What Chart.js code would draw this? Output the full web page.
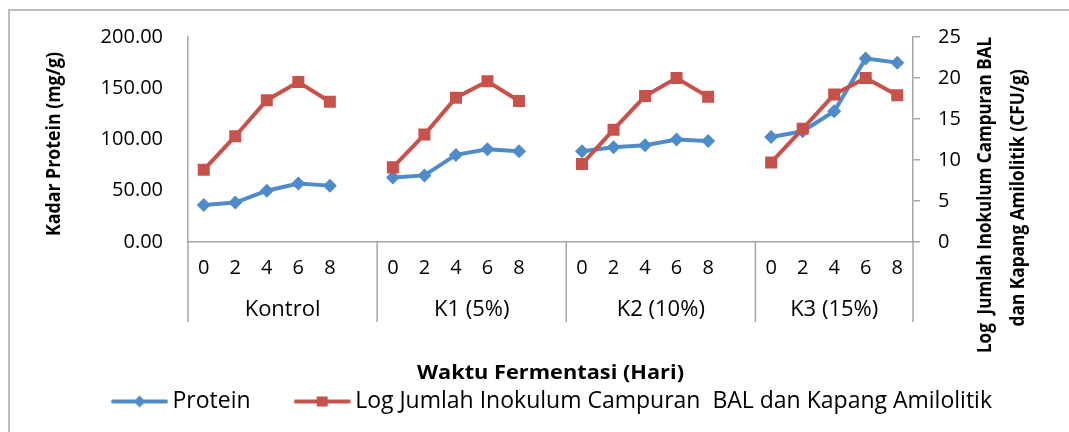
<!DOCTYPE html>
<html>
<head>
<meta charset="utf-8">
<script src="https://cdn.jsdelivr.net/npm/chart.js@4.4.1/dist/chart.umd.min.js"></script>
<style>
  html, body { margin: 0; padding: 0; background: #fff; }
  #wrap { width: 1069px; height: 432px; }
</style>
</head>
<body>
<div id="wrap"><canvas id="myChart"></canvas></div>
<script>
// days of fermentation, and the four treatment groups
var days = ['0', '2', '4', '6', '8'];
var groups = ['Kontrol', 'K1 (5%)', 'K2 (10%)', 'K3 (15%)'];

// protein content (mg/g), one array per group
var proteinKontrol = [36, 38.5, 50, 57, 55];
var proteinK1 = [63, 65, 85, 90.5, 88.5];
var proteinK2 = [88.5, 92.5, 94.5, 100, 98.5];
var proteinK3 = [102.5, 108, 127.5, 179, 175];

// log count of mixed inoculum (CFU/g)
var logKontrol = [8.8, 12.9, 17.3, 19.5, 17.1];
var logK1 = [9.1, 13.1, 17.6, 19.6, 17.2];
var logK2 = [9.5, 13.7, 17.8, 20.0, 17.7];
var logK3 = [9.7, 13.8, 18.0, 20.0, 17.9];

var leftTicks = [0, 50, 100, 150, 200];
var rightTicks = [0, 5, 10, 15, 20, 25];

var proteinAll = [proteinKontrol, proteinK1, proteinK2, proteinK3];
var logAll = [logKontrol, logK1, logK2, logK3];

var blue = '#4F8BC9';
var red = '#C6524B';
var axisGray = '#A6A6A6';
var font = "'Open Sans', 'Noto Sans', sans-serif";

// build the flat category axis, with one blank slot between groups so the lines break
var labels = [], proteinData = [], logData = [], groupStart = [];
groups.forEach(function (g, gi) {
    groupStart.push(labels.length);
    days.forEach(function (d, di) {
        labels.push(d);
        proteinData.push(proteinAll[gi][di]);
        logData.push(logAll[gi][di]);
    });
    if (gi < groups.length - 1) {
        labels.push('');
        proteinData.push(null);
        logData.push(null);
    }
});

// legend icons: line with marker in the middle (wider than the legend box on purpose)
function legendIcon(color, shape) {
    var c = document.createElement('canvas');
    c.width = 57; c.height = 16;
    var x = c.getContext('2d');
    x.strokeStyle = color; x.fillStyle = color;
    x.lineWidth = 4; x.lineCap = 'round';
    x.beginPath(); x.moveTo(2, 8); x.lineTo(55, 8); x.stroke();
    x.beginPath();
    if (shape === 'diamond') {
        x.moveTo(28.5, 2); x.lineTo(34.5, 8); x.lineTo(28.5, 14); x.lineTo(22.5, 8);
    } else {
        x.rect(23, 3, 11, 10);
    }
    x.closePath(); x.fill();
    return c;
}
var legendIcons = [legendIcon(blue, 'diamond'), legendIcon(red, 'square')];

function drawFitted(ctx, text, cx, cy, len, f, rotate) {
    ctx.save();
    ctx.font = f;
    var w = ctx.measureText(text).width;
    ctx.translate(cx, cy);
    if (rotate) ctx.rotate(-Math.PI / 2);
    ctx.scale(len / w, 1);
    ctx.textAlign = 'center';
    ctx.textBaseline = 'middle';
    ctx.fillStyle = '#000';
    ctx.fillText(text, 0, 0);
    ctx.restore();
}

var decorations = {
    id: 'decorations',
    afterDraw: function (chart) {
        var ctx = chart.ctx;
        var xs = chart.scales.x;
        var area = chart.chartArea;

        // outer frame
        ctx.save();
        ctx.strokeStyle = '#BDBDBD';
        ctx.lineWidth = 2;
        ctx.beginPath();
        ctx.moveTo(9, 440); ctx.lineTo(9, 10); ctx.lineTo(1080, 10);
        ctx.stroke();

        // group separators and group names
        ctx.strokeStyle = axisGray;
        ctx.lineWidth = 1.5;
        var edges = [];
        groupStart.forEach(function (s) { edges.push(xs.getPixelForValue(s - 0.5)); });
        edges.push(xs.getPixelForValue(labels.length - 0.5));
        edges.forEach(function (px) {
            ctx.beginPath();
            ctx.moveTo(px, area.bottom);
            ctx.lineTo(px, area.bottom + 80);
            ctx.stroke();
        });
        ctx.fillStyle = '#000';
        ctx.font = '22px ' + font;
        ctx.textAlign = 'center';
        ctx.textBaseline = 'middle';
        groups.forEach(function (g, i) {
            ctx.fillText(g, (edges[i] + edges[i + 1]) / 2, area.bottom + 68);
        });
        ctx.restore();

        // axis titles
        var bold = 'bold 19px ' + font;
        drawFitted(ctx, 'Kadar Protein (mg/g)', 55, 144, 184, bold, true);
        drawFitted(ctx, 'Log  Jumlah Inokulum Campuran BAL', 986, 195, 316, bold, true);
        drawFitted(ctx, 'dan Kapang Amilolitik (CFU/g)', 1019, 198, 257, bold, true);
        drawFitted(ctx, 'Waktu Fermentasi (Hari)', (area.left + area.right) / 2, 374, 267, bold, false);
    }
};

var ctx = document.getElementById('myChart');

var myChart = new Chart(ctx, {
    type: 'line',
    data: {
        labels: labels,
        datasets: [
            {
                label: 'Protein',
                data: proteinData,
                yAxisID: 'y',
                borderColor: blue,
                backgroundColor: blue,
                borderWidth: 4,
                pointStyle: 'rectRot',
                pointRadius: 7,
                pointHoverRadius: 7,
                pointBorderWidth: 0,
                spanGaps: false,
                tension: 0,
                order: 1
            },
            {
                label: 'Log Jumlah Inokulum Campuran  BAL dan Kapang Amilolitik',
                data: logData,
                yAxisID: 'y2',
                borderColor: red,
                backgroundColor: red,
                borderWidth: 4,
                pointStyle: 'rect',
                pointRadius: 8.5,
                pointHoverRadius: 8.5,
                pointBorderWidth: 0,
                spanGaps: false,
                tension: 0,
                order: 0
            }
        ]
    },
    options: {
        responsive: true,
        maintainAspectRatio: false,
        animation: false,
        layout: { padding: { top: 37, left: 41, right: 0, bottom: 9 } },
        plugins: {
            tooltip: { enabled: false },
            legend: {
                position: 'bottom',
                labels: {
                    usePointStyle: true,
                    pointStyleWidth: 43,
                    padding: 50,
                    color: '#000',
                    font: { family: font, size: 23 },
                    sort: function (a, b) { return a.datasetIndex - b.datasetIndex; },
                    generateLabels: function (chart) {
                        var items = Chart.defaults.plugins.legend.labels.generateLabels(chart);
                        items.forEach(function (it) { it.pointStyle = legendIcons[it.datasetIndex]; });
                        return items;
                    }
                }
            }
        },
        scales: {
            x: {
                type: 'category',
                offset: true,
                grid: { display: false, drawTicks: false },
                border: { color: axisGray, width: 1.5 },
                ticks: {
                    autoSkip: false,
                    maxRotation: 0,
                    padding: 14,
                    color: '#000',
                    font: { family: font, size: 20 }
                },
                afterFit: function (s) { s.height = 98; }
            },
            y: {
                position: 'left',
                min: 0,
                max: 200,
                afterBuildTicks: function (s) { s.ticks = leftTicks.map(function (v) { return { value: v }; }); },
                grid: { display: false, drawTicks: false },
                border: { color: axisGray, width: 1.5 },
                ticks: {
                    padding: 25,
                    color: '#000',
                    font: { family: font, size: 20 },
                    callback: function (v) { return v.toFixed(2); }
                },
                afterFit: function (s) { s.width = 147; }
            },
            y2: {
                position: 'right',
                min: 0,
                max: 25,
                afterBuildTicks: function (s) { s.ticks = rightTicks.map(function (v) { return { value: v }; }); },
                grid: { display: true, drawOnChartArea: false, drawTicks: true, tickLength: 7, color: axisGray, lineWidth: 1.5 },
                border: { color: axisGray, width: 1.5 },
                ticks: {
                    padding: 18,
                    color: '#000',
                    font: { family: font, size: 20 }
                },
                afterFit: function (s) { s.width = 156; }
            }
        }
    },
    plugins: [decorations]
});
</script>
</body>
</html>
